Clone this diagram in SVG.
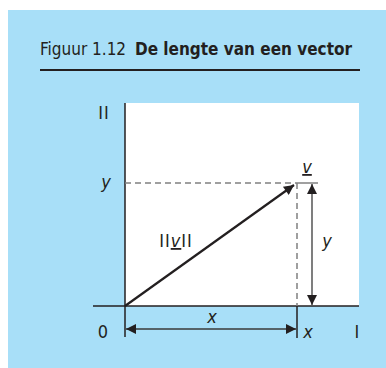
<svg xmlns="http://www.w3.org/2000/svg" width="386" height="368" viewBox="0 0 386 368">
<style>
.t{font-family:"Liberation Sans Narrow","DejaVu Sans Condensed","Liberation Sans",sans-serif;font-size:18px;fill:#231f20}
.h{font-size:17px}
.i{font-style:italic}
.ax{stroke:#231f20;stroke-width:1.5;fill:none}
.dash{stroke:#808080;stroke-width:1.5;stroke-dasharray:6,4;fill:none}
.dim{stroke:#3a3a3a;stroke-width:1.3;fill:none}
</style>
<defs>
<marker id="ah" viewBox="0 0 10 10" refX="10" refY="5" markerWidth="12" markerHeight="10" markerUnits="userSpaceOnUse" orient="auto-start-reverse">
<path d="M0,0 L10,5 L0,10 z" fill="#231f20"/>
</marker>
</defs>
<rect x="8" y="10" width="378" height="358" fill="#a8dff8"/>
<g id="title">
<text class="t h" x="40" y="55">Figuur 1.12 <tspan font-weight="bold" dx="4">De lengte van een vector</tspan></text>
<line x1="40" y1="70" x2="360" y2="70" stroke="#231f20" stroke-width="2"/>
</g>
<rect id="plot" x="125" y="103" width="234" height="203" fill="#ffffff"/>
<g id="connectors">
<line class="ax" x1="125" y1="103" x2="125" y2="337"/>
<line class="ax" x1="93" y1="306" x2="359" y2="306"/>
<line class="dash" x1="125" y1="183" x2="297" y2="183"/>
<line x1="297" y1="183" x2="318" y2="183" stroke="#808080" stroke-width="1.5"/>
<line class="dash" x1="297" y1="183" x2="297" y2="306"/>
<line class="ax" x1="297" y1="306" x2="297" y2="338"/>
<line stroke="#231f20" stroke-width="2.2" x1="125" y1="306" x2="294" y2="185" marker-end="url(#ah)"/>
<line class="dim" x1="312" y1="184" x2="312" y2="305" marker-start="url(#ah)" marker-end="url(#ah)"/>
<line class="dim" x1="126" y1="329" x2="296" y2="329" marker-start="url(#ah)" marker-end="url(#ah)"/>
</g>
<g id="labels">
<text class="t" x="104" y="119" text-anchor="middle" letter-spacing="1">II</text>
<text class="t i" x="106" y="188" text-anchor="middle">y</text>
<text class="t" x="103" y="338" text-anchor="middle">0</text>
<text class="t" x="357" y="338" text-anchor="middle">I</text>
<text class="t i" x="308" y="338" text-anchor="middle">x</text>
<text class="t i" x="212" y="323" text-anchor="middle">x</text>
<text class="t i" x="327" y="247" text-anchor="middle">y</text>
<text class="t" x="176" y="247" text-anchor="middle" letter-spacing="1">II<tspan class="i" text-decoration="underline">v</tspan>II</text>
<text class="t i" x="307" y="173" text-anchor="middle" text-decoration="underline">v</text>
</g>
</svg>
